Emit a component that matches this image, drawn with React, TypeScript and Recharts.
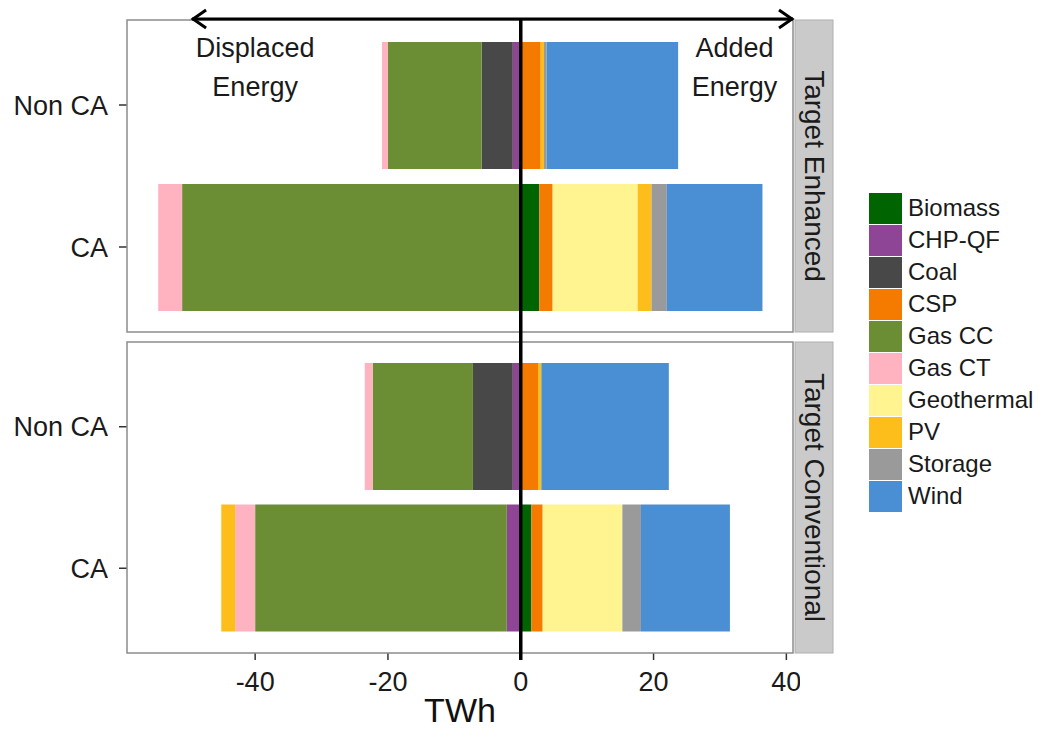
import React from 'react';
import { BarChart, Bar, XAxis, YAxis } from 'recharts';

const regions = ['Non CA', 'CA'];
const techs = ['Biomass', 'CHP-QF', 'Coal', 'CSP', 'Gas CC', 'Gas CT', 'Geothermal', 'PV', 'Storage', 'Wind'];
const techColors = ['#006400', '#8e4595', '#484848', '#f47b00', '#6b8e35', '#ffb3c1', '#fff48f', '#fdbd1a', '#9a9a9a', '#4a8fd4'];

// TWh per technology, same order as techs. Negative = displaced, positive = added.
const enhancedNonCA = [0, -1.2, -4.7, 3.0, -14.1, -0.9, 0, 0.5, 0.4, 19.8];
const enhancedCA = [2.8, 0, 0, 2.0, -51.0, -3.6, 12.8, 2.1, 2.3, 14.4];
const conventionalNonCA = [0, -1.2, -6.0, 2.6, -15.1, -1.2, 0, 0.5, 0, 19.2];
const conventionalCA = [1.6, -2.1, 0, 1.7, -37.9, -3.0, 12.0, -2.1, 2.8, 13.4];

const facetLabels = ['Target Enhanced', 'Target Conventional'];
const xTicks = [-40, -20, 0, 20, 40];

const X_MIN = -59.3;
const X_MAX = 41;
const PLOT_LEFT = 127;
const PLOT_RIGHT = 793;
const PANELS = [
  { top: 20, bottom: 332 },
  { top: 342, bottom: 653 },
];
const FONT = '"Liberation Sans", Arial, sans-serif';

const px = (v: number) => PLOT_LEFT + ((v - X_MIN) / (X_MAX - X_MIN)) * (PLOT_RIGHT - PLOT_LEFT);

const toRows = (nonCA: number[], ca: number[]) =>
  regions.map((name, i) => {
    const vals = i === 0 ? nonCA : ca;
    const row: Record<string, string | number> = { name };
    techs.forEach((t, j) => {
      row[t] = vals[j];
    });
    return row;
  });

interface FacetProps {
  data: Record<string, string | number>[];
  top: number;
  height: number;
  marginTop: number;
  marginBottom: number;
  showX: boolean;
}

const Facet: React.FC<FacetProps> = ({ data, top, height, marginTop, marginBottom, showX }) => (
  <div style={{ position: 'absolute', left: 0, top }}>
    <BarChart
      width={800}
      height={height}
      data={data}
      layout="vertical"
      stackOffset="sign"
      barSize={127}
      margin={{ top: marginTop, right: 7, bottom: marginBottom, left: 0 }}
    >
      <XAxis
        type="number"
        domain={[X_MIN, X_MAX]}
        allowDataOverflow
        ticks={xTicks}
        hide={!showX}
        height={77}
        axisLine={false}
        tickSize={7}
        tickMargin={12}
        tickLine={{ stroke: '#333', strokeWidth: 1.5 }}
        tick={{ fontSize: 27, fill: '#1a1a1a', fontFamily: FONT }}
        label={{ value: 'TWh', position: 'insideBottom', offset: 8, fontSize: 34, fill: '#111', fontFamily: FONT }}
      />
      <YAxis
        type="category"
        dataKey="name"
        width={127}
        padding={{ top: 14, bottom: 14 }}
        axisLine={false}
        tickSize={8}
        tickMargin={11}
        tickLine={{ stroke: '#333', strokeWidth: 1.5 }}
        tick={{ fontSize: 27, fill: '#1a1a1a', fontFamily: FONT }}
      />
      {techs.map((t, i) => (
        <Bar key={t} dataKey={t} stackId="a" fill={techColors[i]} isAnimationActive={false} />
      ))}
    </BarChart>
  </div>
);

const App: React.FC = () => {
  const arrowY = 19;
  const arrowLeft = px(-49.5);
  const arrowRight = px(X_MAX);
  const zeroX = px(0);

  return (
    <div style={{ position: 'absolute', left: 0, top: 0, width: 1057, height: 730, background: '#fff', fontFamily: FONT }}>
      <Facet data={toRows(enhancedNonCA, enhancedCA)} top={0} height={340} marginTop={20} marginBottom={8} showX={false} />
      <Facet data={toRows(conventionalNonCA, conventionalCA)} top={340} height={390} marginTop={2} marginBottom={0} showX />

      <svg width={1057} height={730} style={{ position: 'absolute', left: 0, top: 0, pointerEvents: 'none' }}>
        {PANELS.map((p, i) => (
          <g key={i}>
            <rect x={PLOT_LEFT} y={p.top} width={PLOT_RIGHT - PLOT_LEFT} height={p.bottom - p.top} fill="none" stroke="#8c8c8c" strokeWidth={1.5} />
            <rect x={PLOT_RIGHT + 2} y={p.top} width={38} height={p.bottom - p.top} fill="#cacaca" stroke="#b0b0b0" strokeWidth={1} />
            <text
              x={PLOT_RIGHT + 21}
              y={(p.top + p.bottom) / 2}
              transform={`rotate(90 ${PLOT_RIGHT + 21} ${(p.top + p.bottom) / 2})`}
              textAnchor="middle"
              dominantBaseline="central"
              fontSize={28}
              fill="#1a1a1a"
            >
              {facetLabels[i]}
            </text>
          </g>
        ))}

        <line x1={zeroX} y1={arrowY} x2={zeroX} y2={660} stroke="#000" strokeWidth={3.5} />
        <line x1={arrowLeft} y1={arrowY} x2={arrowRight} y2={arrowY} stroke="#000" strokeWidth={3} />
        <polyline points={`${arrowLeft + 14},${arrowY - 9} ${arrowLeft + 1},${arrowY} ${arrowLeft + 14},${arrowY + 9}`} fill="none" stroke="#000" strokeWidth={3} />
        <polyline points={`${arrowRight - 14},${arrowY - 9} ${arrowRight - 1},${arrowY} ${arrowRight - 14},${arrowY + 9}`} fill="none" stroke="#000" strokeWidth={3} />

        <g fontSize={27} fill="#1a1a1a" textAnchor="middle">
          <text x={px(-40)} y={57}>Displaced</text>
          <text x={px(-40)} y={96}>Energy</text>
          <text x={px(32.2)} y={57}>Added</text>
          <text x={px(32.2)} y={96}>Energy</text>
        </g>
      </svg>

      <div style={{ position: 'absolute', left: 869, top: 192 }}>
        {techs.map((t, i) => (
          <div key={t} style={{ display: 'flex', alignItems: 'center', height: 32 }}>
            <div style={{ width: 33, height: 31, background: techColors[i] }} />
            <span style={{ marginLeft: 6, fontSize: 24, color: '#1a1a1a', lineHeight: '32px' }}>{t}</span>
          </div>
        ))}
      </div>
    </div>
  );
};

export default App;
